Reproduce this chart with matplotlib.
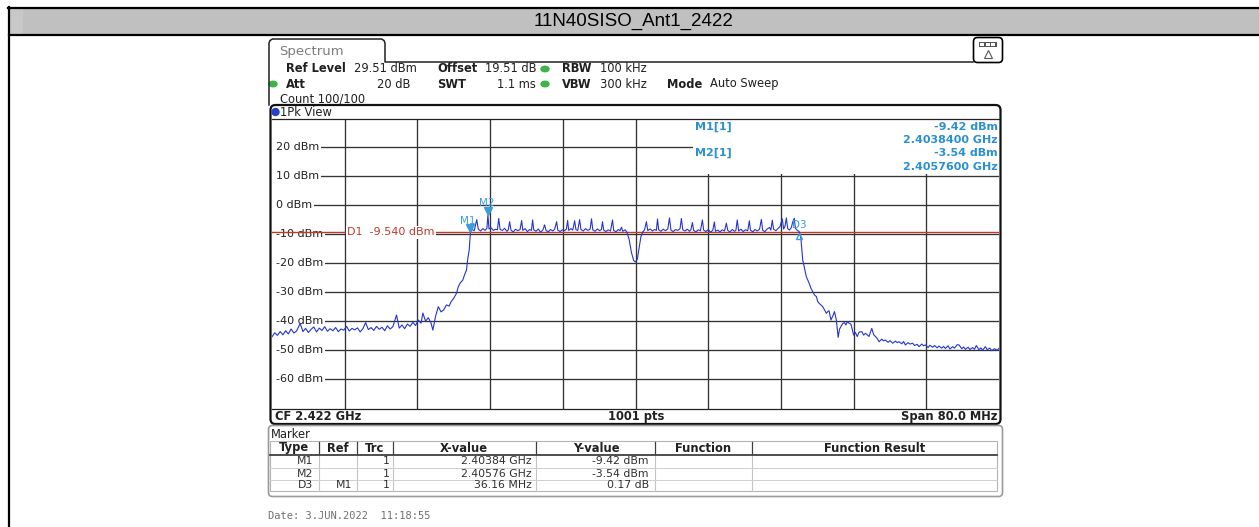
import matplotlib
matplotlib.use("Agg")
import matplotlib.pyplot as plt
from matplotlib.patches import FancyBboxPatch, Rectangle, Ellipse
from matplotlib import transforms

plt.rcParams["font.family"] = ["DejaVu Sans"]

# --- values ---
title = "11N40SISO_Ant1_2422"
center_ghz = 2.422
span_mhz = 80.0
ref_level = 29.51
db_per_div = 10
sweep_pts = 1001
display_line = -9.540
level_ticks = [20, 10, 0, -10, -20, -30, -40, -50, -60]

trace_mhz = [
    2382.0, 2382.3, 2382.6, 2382.9, 2383.2, 2383.5, 2383.8, 2384.1, 2384.4, 2384.7,
    2385.1, 2385.4, 2385.7, 2386.0, 2386.3, 2386.6, 2386.9, 2387.2, 2387.5, 2387.8,
    2388.1, 2388.4, 2388.7, 2389.0, 2389.3, 2389.6, 2389.9, 2390.2, 2390.5, 2390.8,
    2391.1, 2391.4, 2391.7, 2392.0, 2392.3, 2392.6, 2392.9, 2393.2, 2393.5, 2393.8,
    2394.1, 2394.4, 2394.7, 2395.0, 2395.3, 2395.7, 2396.0, 2396.3, 2396.6, 2396.9,
    2397.2, 2397.5, 2397.8, 2398.1, 2398.4, 2398.6, 2398.9, 2399.2, 2399.5, 2399.7,
    2400.0, 2400.3, 2400.6, 2400.9, 2401.2, 2401.5, 2401.7, 2402.0, 2402.3, 2402.5,
    2402.7, 2403.0, 2403.2, 2403.4, 2403.55, 2403.7, 2403.84,
    2404.05, 2404.25, 2404.53, 2404.7, 2404.95, 2405.2, 2405.45, 2405.65, 2405.76, 2405.88,
    2406.1, 2406.35, 2406.6, 2406.8, 2406.95, 2407.1, 2407.35, 2407.6, 2407.85, 2408.0,
    2408.15, 2408.3, 2408.55, 2408.8, 2409.05, 2409.3, 2409.47, 2409.6, 2409.85, 2410.1,
    2410.35, 2410.55, 2410.68, 2410.8, 2411.05, 2411.3, 2411.55, 2411.8, 2412.0, 2412.15,
    2412.4, 2412.65, 2412.9, 2413.1, 2413.32, 2413.45, 2413.7, 2413.95, 2414.2, 2414.4,
    2414.53, 2414.65, 2414.9, 2415.1, 2415.3, 2415.45, 2415.65, 2415.85, 2416.0, 2416.25,
    2416.5, 2416.75, 2417.0, 2417.16, 2417.3, 2417.55, 2417.8, 2418.05, 2418.25, 2418.37,
    2418.5, 2418.75, 2419.0, 2419.25, 2419.47, 2419.6, 2419.85, 2420.1, 2420.3, 2420.46,
    2420.6, 2420.85, 2421.05, 2421.3, 2421.55, 2421.8, 2422.0, 2422.2, 2422.4, 2422.6,
    2422.8, 2423.0, 2423.2, 2423.35, 2423.6, 2423.85, 2424.1, 2424.3, 2424.42, 2424.55,
    2424.8, 2425.05, 2425.3, 2425.55, 2425.74, 2425.9, 2426.15, 2426.4, 2426.65, 2426.9,
    2427.05, 2427.2, 2427.45, 2427.7, 2427.95, 2428.1, 2428.26, 2428.4, 2428.65, 2428.9,
    2429.15, 2429.36, 2429.5, 2429.75, 2430.0, 2430.25, 2430.5, 2430.68, 2430.8, 2431.05,
    2431.3, 2431.55, 2431.8, 2432.0, 2432.15, 2432.4, 2432.65, 2432.9, 2433.05, 2433.2,
    2433.35, 2433.6, 2433.85, 2434.1, 2434.35, 2434.53, 2434.65, 2434.9, 2435.15, 2435.4,
    2435.65, 2435.85, 2436.0, 2436.25, 2436.5, 2436.75, 2436.9, 2437.05, 2437.2, 2437.45,
    2437.7, 2437.9, 2438.15, 2438.3, 2438.45, 2438.6, 2438.75, 2438.95, 2439.15, 2439.3,
    2439.47, 2439.6, 2439.8, 2440.0,
    2440.2, 2440.4, 2440.6, 2440.8, 2441.1, 2441.3, 2441.5, 2441.7, 2441.9, 2442.05,
    2442.2, 2442.4, 2442.6, 2442.8, 2443.0, 2443.15, 2443.3, 2443.5, 2443.7, 2443.9,
    2444.1, 2444.3, 2444.45, 2444.6, 2444.8, 2445.0, 2445.15, 2445.3, 2445.5, 2445.7,
    2445.85, 2446.0, 2446.2, 2446.4, 2446.6, 2446.9, 2447.1, 2447.3, 2447.5, 2447.7,
    2447.85, 2448.0, 2448.2, 2448.4, 2448.6, 2448.8, 2449.1, 2449.3, 2449.5, 2449.8,
    2450.0, 2450.3, 2450.6, 2450.8, 2451.0, 2451.3, 2451.5, 2451.7, 2452.0, 2452.2,
    2452.5, 2452.7, 2453.0, 2453.2, 2453.5, 2453.7, 2453.9, 2454.2, 2454.4, 2454.7,
    2454.9, 2455.2, 2455.4, 2455.7, 2455.9, 2456.1, 2456.4, 2456.6, 2456.9, 2457.1,
    2457.4, 2457.6, 2457.9, 2458.1, 2458.3, 2458.6, 2458.8, 2459.1, 2459.3, 2459.5,
    2459.8, 2460.0, 2460.2, 2460.5, 2460.7, 2461.0, 2461.2, 2461.5, 2461.8, 2462.0,
]
trace_dbm = [
    -45.6, -44.2, -45.1, -43.8, -44.9, -43.5, -44.6, -42.9, -44.3, -43.6,
    -41.0, -43.8, -42.7, -44.1, -43.0, -42.2, -43.9, -42.6, -43.4, -42.1,
    -43.7, -42.8, -43.5, -42.4, -43.8, -42.9, -43.3, -42.0, -43.6, -42.7,
    -43.2, -42.5, -43.9, -42.8, -40.7, -43.1, -42.4, -43.4, -42.0, -43.0,
    -42.3, -43.5, -41.8, -42.9, -42.1, -38.1, -42.6, -41.5, -42.8, -41.2,
    -42.0, -40.6, -41.7, -39.8, -40.9, -37.4, -40.2, -39.0, -40.8, -43.3,
    -38.5, -35.2, -37.0, -36.3, -34.6, -35.0, -33.5, -32.3, -30.6, -28.3,
    -27.1, -26.0, -24.1, -22.6, -18.5, -15.7, -9.42,
    -8.6, -9.0, -5.2, -8.5, -9.1, -8.3, -8.9, -8.2, -3.54, -8.4,
    -8.0, -8.9, -8.5, -8.7, -4.8, -8.6, -8.9, -8.2, -9.2, -8.7,
    -5.9, -8.8, -9.4, -8.5, -9.0, -8.6, -5.5, -8.9, -8.3, -9.3,
    -8.6, -8.9, -5.3, -8.7, -9.2, -8.4, -9.5, -8.8, -7.0, -8.9,
    -9.4, -8.6, -9.1, -8.5, -5.9, -8.8, -9.3, -8.7, -9.0, -8.4,
    -5.5, -8.9, -8.3, -8.8, -5.6, -8.7, -8.9, -5.2, -8.6, -9.1,
    -8.3, -8.9, -8.5, -4.9, -8.7, -9.2, -8.4, -9.0, -8.6, -5.9,
    -8.8, -9.3, -8.7, -9.1, -5.3, -8.9, -9.4, -8.6, -9.0, -7.8,
    -9.2, -8.7, -9.5, -12.0, -16.5, -19.3, -19.8, -18.8, -15.0, -11.0,
    -9.4, -8.7, -5.9, -9.0, -8.4, -9.1, -8.6, -8.9, -5.0, -8.7,
    -9.2, -8.5, -9.0, -8.4, -4.6, -8.8, -9.3, -8.6, -8.9, -8.3,
    -4.8, -8.7, -9.1, -8.5, -9.2, -8.6, -6.2, -8.9, -9.4, -8.7,
    -9.0, -5.3, -8.8, -9.3, -8.6, -9.5, -8.9, -6.0, -9.2, -8.8,
    -9.4, -8.7, -9.1, -6.4, -8.9, -9.4, -8.6, -9.2, -8.8, -5.3,
    -9.1, -8.5, -9.3, -8.7, -9.0, -5.6, -8.8, -9.4, -8.6, -9.1,
    -8.5, -5.1, -8.9, -9.3, -8.4, -7.9, -8.8, -5.4, -8.5, -9.0,
    -8.2, -7.6, -4.9, -8.4, -7.5, -4.6, -8.3, -8.8, -7.9, -6.0,
    -4.7, -8.2, -8.9, -9.25,
    -11.6, -19.1, -22.0, -24.9, -27.1, -28.8, -30.0, -31.2, -31.7, -33.4,
    -34.0, -34.6, -35.2, -36.3, -37.5, -36.9, -36.6, -39.8, -38.5, -36.9,
    -39.8, -45.8, -43.0, -42.1, -41.0, -40.7, -41.5, -40.4, -40.9, -41.2,
    -43.0, -45.0, -44.1, -45.5, -44.0, -43.8, -45.0, -44.4, -44.9, -45.5,
    -44.0, -42.7, -44.8, -45.5, -46.2, -47.3, -46.4, -47.0, -46.7, -47.5,
    -46.9, -47.8, -47.1, -47.6, -47.3, -48.0, -47.2, -48.4, -47.6, -48.1,
    -47.8, -48.6, -48.2, -49.0, -48.1, -48.7, -48.4, -49.3, -48.5, -49.2,
    -48.6, -49.4, -48.8, -49.5, -48.9, -49.6, -48.7, -49.8, -49.0, -49.5,
    -48.3, -48.4, -49.7, -49.1, -49.9, -49.2, -50.0, -49.3, -49.9, -48.6,
    -50.1, -49.4, -50.2, -49.0, -50.0, -49.5, -50.4, -49.7, -50.2, -49.6,
]

marker_names = ["M1", "M2", "D3"]
marker_refs = ["", "", "M1"]
marker_trc = [1, 1, 1]
marker_x_text = ["2.40384 GHz", "2.40576 GHz", "36.16 MHz"]
marker_y_text = ["-9.42 dBm", "-3.54 dBm", "0.17 dB"]
marker_mhz = [2403.84, 2405.76]
marker_dbm = [-9.42, -3.54]
delta_mhz = 36.16
delta_db = 0.17

table_cols = ["Type", "Ref", "Trc", "X-value", "Y-value", "Function", "Function Result"]

W, H = 1259, 527
fig = plt.figure(figsize=(W / 100, H / 100), dpi=100)

# background layer in pixel units (y down)
bg = fig.add_axes([0, 0, 1, 1])
bg.set_xlim(0, W)
bg.set_ylim(H, 0)
bg.axis("off")

dark = "#202020"
mblue = "#2b90d0"
red = "#c0392b"

# title bar of the report cell
bg.add_patch(Rectangle((9, 8), W - 9, 27, fc="#c0c0c0", ec="none"))
bg.add_patch(Rectangle((10, 9), 13, 26, fc="#c8c8c8", ec="none"))
bg.plot([8, W], [8, 8], color="black", lw=1.6)
bg.plot([9, W], [35, 35], color="black", lw=1.6)
bg.plot([9, 9], [7, H], color="black", lw=1.6)
bg.text(634, 21.5, title, ha="center", va="center", fontsize=13.5,
        family="Liberation Sans")

# tab and header strip
tab = [(269, 105), (269, 43), (270, 40.5), (272.5, 39), (381.5, 39),
       (384, 40.5), (385, 43), (385, 62), (973, 62)]
bg.plot([p[0] for p in tab], [p[1] for p in tab], color=dark, lw=1.1)
bg.text(279, 51, "Spectrum", color="#7c7c7c", fontsize=9.5, va="center")

bg.add_patch(FancyBboxPatch((973.5, 37.5), 29, 25, boxstyle="round,pad=0,rounding_size=4",
                            ec="black", fc="white", lw=1.2))
bg.add_patch(Rectangle((979, 41.5), 18, 5, fc="#555555", ec="none"))
for bx in (980.5, 986, 991.5):
    bg.add_patch(Rectangle((bx, 42.5), 4, 3, fc="white", ec="none"))
bg.plot([988], [53.5], marker="^", ms=6, mfc="none", mec="#555555", mew=0.8)

def head(x, y, s, bold=False, ha="left"):
    bg.text(x, y, s, fontsize=8.3, color=dark, va="center", ha=ha,
            fontweight="bold" if bold else "normal")

def dot(x, y):
    bg.add_patch(Ellipse((x, y), 8, 5.5, color="#3cb44a"))

r1, r2, r3 = 69, 84, 98.5
head(286, r1, "Ref Level", True)
head(354, r1, f"{ref_level:.2f} dBm")
head(437, r1, "Offset", True)
head(485, r1, "19.51 dB")
dot(545, r1)
head(562, r1, "RBW", True)
head(600, r1, "100 kHz")
dot(273, r2)
head(286, r2, "Att", True)
head(411, r2, "20 dB", ha="right")
head(437, r2, "SWT", True)
head(536, r2, "1.1 ms", ha="right")
dot(545, r2)
head(562, r2, "VBW", True)
head(600, r2, "300 kHz")
head(667, r2, "Mode", True)
head(710, r2, "Auto Sweep")
head(280, r3, "Count 100/100")

# spectrum panel frame
bg.add_patch(FancyBboxPatch((270.5, 105), 730, 319, boxstyle="round,pad=0,rounding_size=5",
                            ec="#111111", fc="white", lw=1.6))
bg.add_patch(Ellipse((275.5, 112), 7, 7, color="#2440d0"))
head(280, 112, "1Pk View")
head(275, 416.5, f"CF {center_ghz:.3f} GHz", True)
head(636, 416.5, f"{sweep_pts} pts", True, ha="center")
head(997, 416.5, f"Span {span_mhz:.1f} MHz", True, ha="right")

# marker table panel
bg.add_patch(FancyBboxPatch((268.5, 425.5), 734, 71, boxstyle="round,pad=0,rounding_size=4",
                            ec="#9a9a9a", fc="white", lw=1.2))
head(271, 434, "Marker")
tl, tr, tt, tb = 270, 997, 441, 491
bg.add_patch(Rectangle((tl, tt), tr - tl, tb - tt, fc="none", ec="#b4b4b4", lw=0.8))
seps = [319, 357, 393, 536, 655, 752]
col_mid = [294, 338, 375, 464, 596, 703, 875]
for sx in seps:
    bg.plot([sx, sx], [442, 454], color="#404040", lw=0.9)
    bg.plot([sx, sx], [456, tb], color="#c4c4c4", lw=0.8)
bg.plot([tl, tr], [455, 455], color="#404040", lw=1.3)
for ry in (468, 480):
    bg.plot([tl, tr], [ry, ry], color="#cfcfcf", lw=0.7)
for name, cx in zip(table_cols, col_mid):
    bg.text(cx, 448, name, ha="center", va="center", fontsize=8.3,
            fontweight="bold", color=dark)
row_y = [461.5, 474, 485.5]
for i, ry in enumerate(row_y):
    kw = dict(va="center", ha="right", fontsize=7.8, color="#303030")
    bg.text(313, ry, marker_names[i], **kw)
    bg.text(352, ry, marker_refs[i], **kw)
    bg.text(390, ry, str(marker_trc[i]), **kw)
    bg.text(532, ry, marker_x_text[i], **kw)
    bg.text(649, ry, marker_y_text[i], **kw)

bg.text(268, 516, "Date: 3.JUN.2022  11:18:55", family="DejaVu Sans Mono",
        fontsize=7.5, color="#707070", va="center")

# --- the measurement grid ---
gl, gr, gt, gb = 272, 999, 119, 409
ax = fig.add_axes([gl / W, 1 - gb / H, (gr - gl) / W, (gb - gt) / H])
start = center_ghz * 1000 - span_mhz / 2
stop = center_ghz * 1000 + span_mhz / 2
ax.set_xlim(start, stop)
ax.set_ylim(ref_level - 10 * db_per_div, ref_level)
ax.set_xticks([])
ax.set_yticks([])
ax.spines["left"].set_visible(False)
ax.spines["right"].set_visible(False)
for s in ("top", "bottom"):
    ax.spines[s].set_color("#222222")
    ax.spines[s].set_linewidth(0.9)

def af(x, y):
    # pixel position -> axes fraction
    return (x - gl) / (gr - gl), (gb - y) / (gb - gt)

grid_c = "#333333"
for k in range(1, 10):
    ax.axvline(start + k * span_mhz / 10, color=grid_c, lw=0.95, zorder=1)
ylab = transforms.blended_transform_factory(ax.transAxes, ax.transData)
for lv in level_ticks:
    ax.axhline(lv, color=grid_c, lw=0.95, zorder=1)
    ax.text(4 / (gr - gl), lv, f"{lv} dBm", transform=ylab, va="center", fontsize=8,
            color=dark, zorder=2,
            bbox=dict(boxstyle="square,pad=0.15", fc="white", ec="none"))
# keep the level lines clear of the panel edge
ax.add_patch(Rectangle((0, 0), 5 / (gr - gl), 1, transform=ax.transAxes,
                       fc="white", ec="none", zorder=1.2))

# display line D1
ax.axhline(display_line, color=red, lw=1.0, zorder=3)
ax.text(af(347, 0)[0], display_line, f"D1  {display_line:.3f} dBm", transform=ylab,
        va="center", fontsize=8, color=red, zorder=3.5,
        bbox=dict(boxstyle="square,pad=0.12", fc="white", ec="none"))

# marker readout box
bx0, by0 = af(693, 174)
ax.add_patch(Rectangle((bx0, by0), 1 - bx0, 1 - by0, transform=ax.transAxes,
                       fc="white", ec="none", zorder=1.5))
info = [
    (127.3, f"M1[{marker_trc[0]}]", marker_y_text[0], None),
    (140.0, None, None, f"{marker_mhz[0] / 1000:.7f} GHz"),
    (153.3, f"M2[{marker_trc[1]}]", marker_y_text[1], None),
    (166.7, None, None, f"{marker_mhz[1] / 1000:.7f} GHz"),
]
for y, lab, val, fr in info:
    kw = dict(transform=ax.transAxes, va="center", fontsize=8, fontweight="bold",
              color=mblue, zorder=5)
    if lab:
        ax.text(*af(695, y), lab, ha="left", **kw)
    if val:
        ax.text(*af(998, y), val, ha="right", **kw)
    if fr:
        ax.text(*af(998, y), fr, ha="right", **kw)

# trace
ax.plot(trace_mhz, trace_dbm, color="#2435cf", lw=0.8, zorder=4)

# markers
mcol = "#3a9ddb"
tri = transforms.offset_copy(ax.transData, fig=fig, x=0, y=4, units="dots")
for name, f, lv, dx, dy in zip(marker_names[:2], marker_mhz, marker_dbm, (-3, -1), (11, 12)):
    ax.plot([f], [lv], marker="v", ms=6, color=mcol, transform=tri, zorder=6)
    ax.annotate(name, (f, lv), xytext=(dx, dy), textcoords="offset pixels",
                ha="center", va="center", fontsize=7.5, color=mcol, zorder=6)
d3_f = marker_mhz[0] + delta_mhz
d3_lv = marker_dbm[0] + delta_db
tri_dn = transforms.offset_copy(ax.transData, fig=fig, x=0, y=-5, units="dots")
ax.plot([d3_f], [d3_lv], marker="^", ms=5, mfc="none", mec=mcol, mew=1.0,
        transform=tri_dn, zorder=6)
ax.annotate(marker_names[2], (d3_f, d3_lv), xytext=(0, 6), textcoords="offset pixels",
            ha="center", va="center", fontsize=7.5, color=mcol, zorder=6)

fig.savefig("out.png", dpi=100)
